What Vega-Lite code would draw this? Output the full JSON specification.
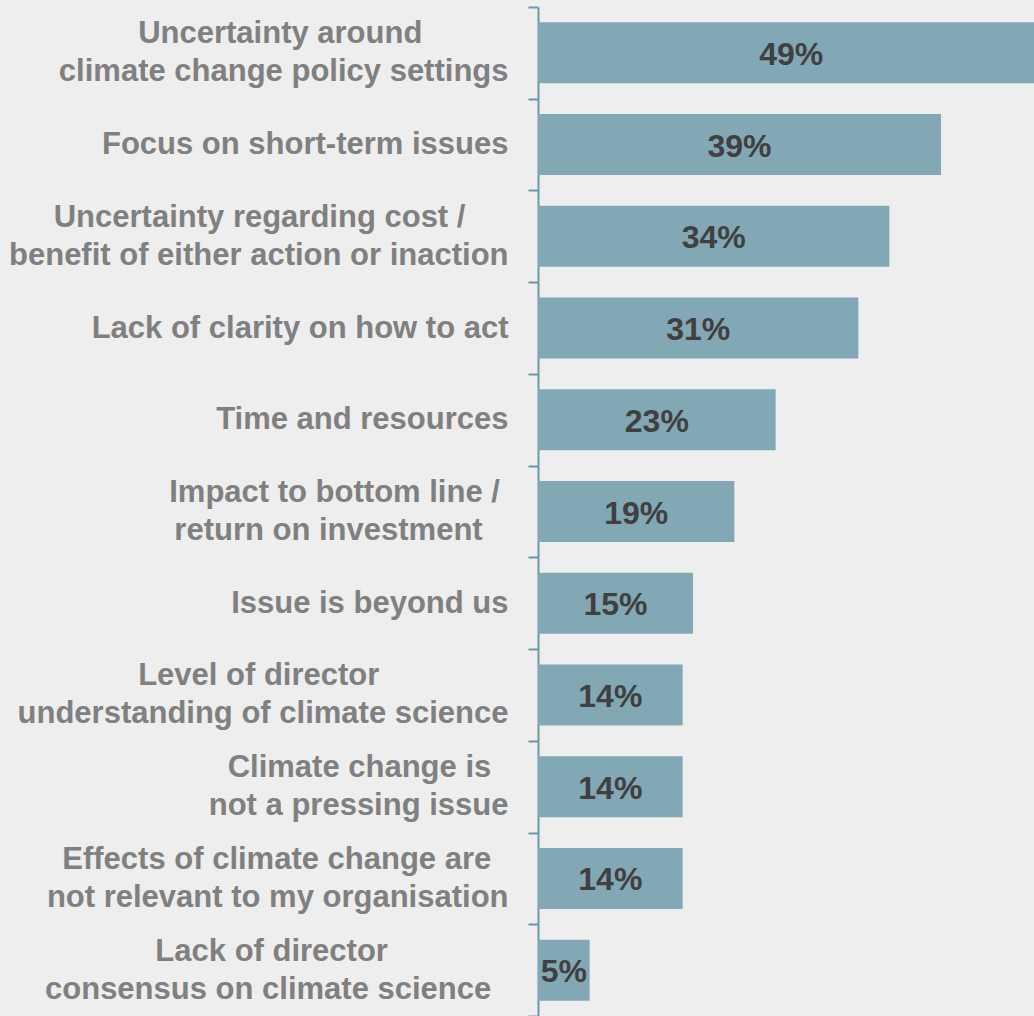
{
  "$schema": "https://vega.github.io/schema/vega-lite/v6.json",
  "autosize": {"type": "none"},
  "padding": {"left": 538, "top": 7, "right": 0, "bottom": 0},
  "width": 496,
  "height": 1009,
  "background": "#eeeeee",
  "config": {"view": {"stroke": null}},
  "data": {
    "values": [
      {"label": "Uncertainty around\u00a0\u00a0\u00a0\u00a0\u00a0\u00a0\u00a0\u00a0\u00a0\u00a0\u200b|climate change policy settings", "value": 49},
      {"label": "Focus on short-term issues", "value": 39},
      {"label": "Uncertainty regarding cost /\u00a0\u00a0\u00a0\u00a0\u00a0\u200b|benefit of either action or inaction", "value": 34},
      {"label": "Lack of clarity on how to act", "value": 31},
      {"label": "Time and resources", "value": 23},
      {"label": "Impact to bottom line /\u00a0\u200b|return on investment\u00a0\u00a0\u00a0\u200b", "value": 19},
      {"label": "Issue is beyond us", "value": 15},
      {"label": "Level of director\u00a0\u00a0\u00a0\u00a0\u00a0\u00a0\u00a0\u00a0\u00a0\u00a0\u00a0\u00a0\u00a0\u00a0\u00a0\u200b|understanding of climate science", "value": 14},
      {"label": "Climate change is\u00a0\u00a0\u200b|not a pressing issue", "value": 14},
      {"label": "Effects of climate change are\u00a0\u00a0\u200b|not relevant to my organisation", "value": 14},
      {"label": "Lack of director\u00a0\u00a0\u00a0\u00a0\u00a0\u00a0\u00a0\u00a0\u00a0\u00a0\u00a0\u00a0\u00a0\u00a0\u200b|consensus on climate science\u00a0\u00a0\u200b", "value": 5}
    ]
  },
  "resolve": {"scale": {"y": "independent"}, "axis": {"y": "independent"}},
  "layer": [
    {
      "mark": {"type": "bar", "color": "#82a8b6", "clip": true},
      "encoding": {
        "y": {"field": "label", "type": "nominal", "sort": null, "scale": {"paddingInner": 0.335, "paddingOuter": 0.1675}, "axis": null},
        "x": {"field": "value", "type": "quantitative", "scale": {"domain": [0, 48], "nice": false}, "axis": null}
      }
    },
    {
      "transform": [
        {"calculate": "datum.value + '%'", "as": "txt"},
        {"calculate": "datum.value / 2", "as": "mid"}
      ],
      "mark": {"type": "text", "font": "Liberation Sans", "fontSize": 32, "fontWeight": "bold", "color": "#404040", "align": "center", "baseline": "middle", "dy": 2},
      "encoding": {
        "y": {"field": "label", "type": "nominal", "sort": null, "scale": {"paddingInner": 0.335, "paddingOuter": 0.1675}, "axis": null},
        "x": {"field": "mid", "type": "quantitative"},
        "text": {"field": "txt"}
      }
    },
    {
      "mark": {"type": "point", "opacity": 0},
      "encoding": {
        "y": {
          "field": "label",
          "type": "nominal",
          "sort": null,
          "scale": {"paddingInner": 0, "paddingOuter": 0},
          "axis": {
            "title": null,
            "labelExpr": "indexof(datum.label, '|') >= 0 ? [split(datum.label, '|')[0], '\u00a0\u200b', split(datum.label, '|')[1]] : ['\u00a0\u200b', datum.label, '\u00a0\u200b']",
            "labelFont": "Liberation Sans",
            "labelFontSize": 31,
            "labelFontWeight": "bold",
            "labelColor": "#808080",
            "labelLineHeight": 19,
            "labelPadding": 20,
            "labelLimit": 0,
            "labelOffset": -19,
            "domainColor": "#6b98ab",
            "domainWidth": 2,
            "tickColor": "#6b98ab",
            "tickWidth": 2,
            "tickSize": 10,
            "tickBand": "extent"
          }
        }
      }
    }
  ]
}
